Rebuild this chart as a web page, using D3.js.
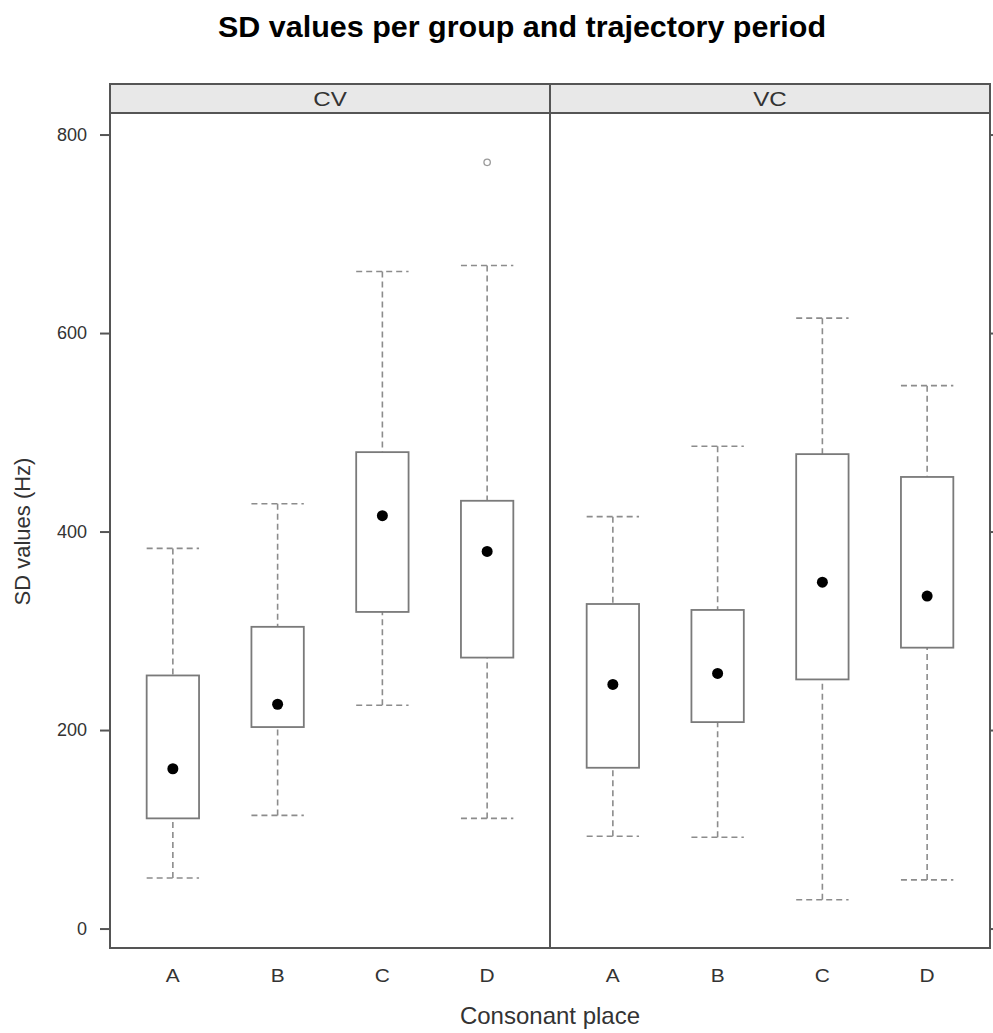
<!DOCTYPE html>
<html>
<head>
<meta charset="utf-8">
<script src="https://cdn.jsdelivr.net/npm/d3@7"></script>
<style>
  body { margin: 0; background: #fff; }
  text { font-family: "Liberation Sans", Arial, sans-serif; fill: #333; }
</style>
</head>
<body>
<div id="chart"></div>
<script>
// panels and categories
var panels = ["CV", "VC"];
var places = ["A", "B", "C", "D"];

// five-number summaries, one array per panel
// [lower whisker, Q1, median, Q3, upper whisker]
var statsCV = [
  [51, 111, 161, 255, 383],
  [114, 203, 226, 304, 428],
  [225, 319, 416, 480, 662],
  [111, 273, 380, 431, 668]
];
var statsVC = [
  [93, 162, 246, 327, 415],
  [92, 208, 257, 321, 486],
  [29, 251, 349, 478, 615],
  [49, 283, 335, 455, 547]
];
// outliers: [panel, place, value]
var outliers = [["CV", "D", 772]];

var yTicks = [0, 200, 400, 600, 800];

var W = 993, H = 1033;
var margin = {left: 110, right: 3, top: 113, bottom: 85};
var stripH = 29;
var panelW = (W - margin.left - margin.right) / panels.length;
var panelH = H - margin.top - margin.bottom;

var svg = d3.select("#chart").append("svg")
    .attr("width", W)
    .attr("height", H);

var y = d3.scaleLinear()
    .domain([-19.6, 821.7])
    .range([margin.top + panelH, margin.top]);

var x = d3.scalePoint()
    .domain(places)
    .range([0, panelW])
    .padding(0.6);
var boxW = x.step() * 0.5;

var lineCol = "#555", boxCol = "#7a7a7a", whiskCol = "#8c8c8c";

// stretch a text a bit wider, the original glyphs are wider than ours
function widen(sel, f) {
  sel.each(function() {
    var len = this.getComputedTextLength();
    d3.select(this).attr("textLength", len * f).attr("lengthAdjust", "spacingAndGlyphs");
  });
}

// title
svg.append("text")
    .attr("x", 522)
    .attr("y", 37)
    .attr("text-anchor", "middle")
    .style("font-weight", "bold")
    .style("font-size", "29px")
    .style("fill", "#000")
    .text("SD values per group and trajectory period")
    .attr("textLength", 608)
    .attr("lengthAdjust", "spacingAndGlyphs");

var allStats = {CV: statsCV, VC: statsVC};

panels.forEach(function(p, pi) {
  var x0 = margin.left + pi * panelW;
  var g = svg.append("g").attr("transform", "translate(" + x0 + ",0)");

  // strip
  g.append("rect")
      .attr("x", 0).attr("y", margin.top - stripH)
      .attr("width", panelW).attr("height", stripH)
      .attr("fill", "#e8e8e8")
      .attr("stroke", lineCol).attr("stroke-width", 2);
  g.append("text")
      .attr("x", panelW / 2)
      .attr("y", margin.top - 7)
      .attr("text-anchor", "middle")
      .style("font-size", "21px")
      .text(p)
      .call(widen, 1.15);

  var data = allStats[p].map(function(s, i) { return {place: places[i], s: s}; });

  var box = g.selectAll(".box")
      .data(data)
    .enter().append("g")
      .attr("class", "box")
      .attr("transform", function(d) { return "translate(" + x(d.place) + ",0)"; });

  // whiskers
  box.append("line")
      .attr("x1", 0).attr("x2", 0)
      .attr("y1", function(d) { return y(d.s[0]); })
      .attr("y2", function(d) { return y(d.s[1]); })
      .attr("stroke", whiskCol).attr("stroke-width", 1.6)
      .attr("stroke-dasharray", "6,4");
  box.append("line")
      .attr("x1", 0).attr("x2", 0)
      .attr("y1", function(d) { return y(d.s[4]); })
      .attr("y2", function(d) { return y(d.s[3]); })
      .attr("stroke", whiskCol).attr("stroke-width", 1.6)
      .attr("stroke-dasharray", "6,4");
  // caps
  [0, 4].forEach(function(k) {
    box.append("line")
        .attr("x1", -boxW / 2).attr("x2", boxW / 2)
        .attr("y1", function(d) { return y(d.s[k]); })
        .attr("y2", function(d) { return y(d.s[k]); })
        .attr("stroke", whiskCol).attr("stroke-width", 1.6)
        .attr("stroke-dasharray", "6,4");
  });

  // box
  box.append("rect")
      .attr("x", -boxW / 2)
      .attr("width", boxW)
      .attr("y", function(d) { return y(d.s[3]); })
      .attr("height", function(d) { return y(d.s[1]) - y(d.s[3]); })
      .attr("fill", "none")
      .attr("stroke", boxCol).attr("stroke-width", 1.8);

  // median dot
  box.append("circle")
      .attr("cx", 0)
      .attr("cy", function(d) { return y(d.s[2]); })
      .attr("r", 5.5)
      .attr("fill", "#000");

  // outliers
  g.selectAll(".out")
      .data(outliers.filter(function(o) { return o[0] === p; }))
    .enter().append("circle")
      .attr("cx", function(o) { return x(o[1]); })
      .attr("cy", function(o) { return y(o[2]); })
      .attr("r", 3.2)
      .attr("fill", "none")
      .attr("stroke", "#999").attr("stroke-width", 1.3);

  // category labels
  g.selectAll(".cat")
      .data(places)
    .enter().append("text")
      .attr("x", function(d) { return x(d); })
      .attr("y", margin.top + panelH + 34)
      .attr("text-anchor", "middle")
      .style("font-size", "19px")
      .text(function(d) { return d; })
      .call(widen, 1.1);

  // panel border
  g.append("rect")
      .attr("x", 0).attr("y", margin.top)
      .attr("width", panelW).attr("height", panelH)
      .attr("fill", "none")
      .attr("stroke", lineCol).attr("stroke-width", 2);
});

// left axis
var yAxis = d3.axisLeft(y).tickValues(yTicks).tickSize(10).tickPadding(13);
var ga = svg.append("g")
    .attr("transform", "translate(" + margin.left + ",0)")
    .call(yAxis);
ga.select(".domain").remove();
ga.selectAll(".tick line").attr("stroke", lineCol).attr("stroke-width", 2);
ga.selectAll(".tick text")
    .style("font-size", "18px")
    .style("font-family", "Liberation Sans, Arial, sans-serif")
    .attr("fill", "#333");

// right ticks, no labels
var yAxisR = d3.axisRight(y).tickValues(yTicks).tickSize(10).tickFormat("");
var gr = svg.append("g")
    .attr("transform", "translate(" + (W - margin.right) + ",0)")
    .call(yAxisR);
gr.select(".domain").remove();
gr.selectAll(".tick line").attr("stroke", lineCol).attr("stroke-width", 2);

// axis titles
svg.append("text")
    .attr("x", margin.left + panelW)
    .attr("y", 1024)
    .attr("text-anchor", "middle")
    .style("font-size", "24px")
    .text("Consonant place");

svg.append("text")
    .attr("transform", "translate(30," + y(400) + ") rotate(-90)")
    .attr("text-anchor", "middle")
    .style("font-size", "22px")
    .text("SD values (Hz)");
</script>
</body>
</html>
